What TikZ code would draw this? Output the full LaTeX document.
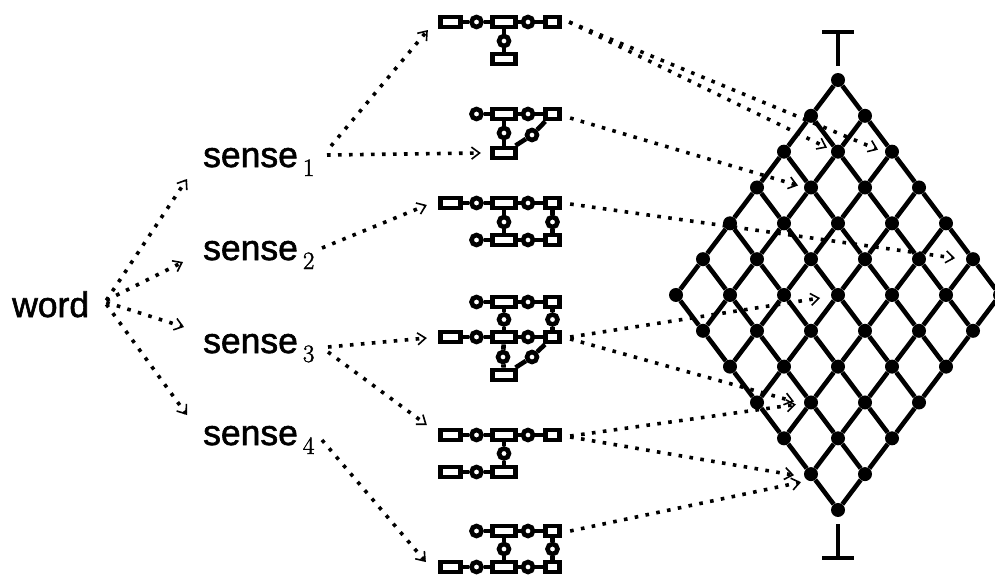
\documentclass[tikz,border=0pt]{standalone}
\usepackage{fontspec}
\usetikzlibrary{arrows.meta,calc}
\newfontfamily\lsans{Liberation Sans}[FakeBold=1.6]
\newfontfamily\lmsub{Latin Modern Roman}[FakeBold=1.6]
\newcommand\subnum[1]{\kern5pt\raisebox{-9pt}{\lmsub\fontsize{25}{25}\selectfont #1}}
\begin{document}
\begin{tikzpicture}[x=1pt,y=-1pt,
  lbl/.style={anchor=base west,inner sep=0pt,font=\lsans\fontsize{35.5}{40}\selectfont},
  rl/.style={rectangle,draw,line width=4.8pt,minimum width=20.5pt,minimum height=10pt,inner sep=0pt},
  rm/.style={rl,minimum width=23.5pt},
  rs/.style={rl,minimum width=14.5pt},
  cc/.style={circle,draw,line width=4.6pt,minimum size=10pt,inner sep=0pt},
  link/.style={line width=4.6pt},
  lat/.style={line width=4.6pt},
  ldot/.style={circle,fill,minimum size=14pt,inner sep=0pt},
  arr/.style={line width=3.6pt,dash pattern=on 3.6pt off 7.4pt,
    -{Straight Barb[length=8pt,width=12pt,line width=1.6pt]}}]
\useasboundingbox (0,0) rectangle (995,579);
\clip (0,0) rectangle (995,579);
\def\Xa{450.5}\def\Xb{476.5}\def\Xc{504}\def\Xd{528}\def\Xe{552.5}
% ---- labels
\node[lbl] (word) at (12,317) {word};
\node[lbl] (s1) at (203,167) {sense\subnum{1}};
\node[lbl] (s2) at (203,260) {sense\subnum{2}};
\node[lbl] (s3) at (203,353) {sense\subnum{3}};
\node[lbl] (s4) at (203,445) {sense\subnum{4}};
% ---- structure 1
\node[rl] (a1) at (\Xa,22) {};
\node[cc] (a2) at (\Xb,22) {};
\node[rm] (a3) at (\Xc,22) {};
\node[cc] (a4) at (\Xd,22) {};
\node[rs] (a5) at (\Xe,22) {};
\node[cc] (a6) at (\Xc,41) {};
\node[rm] (a7) at (\Xc,59) {};
\draw[link] (a1) -- (a2) -- (a3) -- (a4) -- (a5);
\draw[link] (a3) -- (a6) -- (a7);
% ---- structure 2
\node[cc] (b2) at (\Xb,114) {};
\node[rm] (b3) at (\Xc,114) {};
\node[cc] (b4) at (\Xd,114) {};
\node[rs] (b5) at (\Xe,114) {};
\node[cc] (b6) at (\Xc,133) {};
\node[cc] (b8) at (532,135) {};
\node[rm] (b7) at (\Xc,153) {};
\draw[link] (b2) -- (b3) -- (b4) -- (b5);
\draw[link] (b3) -- (b6) -- (b7);
\draw[link] (b5) -- (b8) -- (b7);
% ---- structure 3
\node[rl] (c1) at (\Xa,203) {};
\node[cc] (c2) at (\Xb,203) {};
\node[rm] (c3) at (\Xc,203) {};
\node[cc] (c4) at (\Xd,203) {};
\node[rs] (c5) at (\Xe,203) {};
\node[cc] (c6) at (\Xc,222) {};
\node[cc] (c7) at (\Xe,222) {};
\node[cc] (c8) at (\Xb,240) {};
\node[rm] (c9) at (\Xc,240) {};
\node[cc] (c10) at (\Xd,240) {};
\node[rs] (c11) at (\Xe,240) {};
\draw[link] (c1) -- (c2) -- (c3) -- (c4) -- (c5);
\draw[link] (c3) -- (c6) -- (c9);
\draw[link] (c5) -- (c7) -- (c11);
\draw[link] (c8) -- (c9) -- (c10) -- (c11);
% ---- structure 4
\node[cc] (d2) at (\Xb,302) {};
\node[rm] (d3) at (\Xc,302) {};
\node[cc] (d4) at (\Xd,302) {};
\node[rs] (d5) at (\Xe,302) {};
\node[cc] (d6) at (\Xc,319.5) {};
\node[cc] (d7) at (\Xe,319.5) {};
\node[rl] (d11) at (\Xa,337) {};
\node[cc] (d12) at (\Xb,337) {};
\node[rm] (d13) at (\Xc,337) {};
\node[cc] (d14) at (\Xd,337) {};
\node[rs] (d15) at (\Xe,337) {};
\node[cc] (d16) at (503,357) {};
\node[cc] (d17) at (532,357) {};
\node[rm] (d18) at (\Xc,375) {};
\draw[link] (d2) -- (d3) -- (d4) -- (d5);
\draw[link] (d3) -- (d6) -- (d13);
\draw[link] (d5) -- (d7) -- (d15);
\draw[link] (d11) -- (d12) -- (d13) -- (d14) -- (d15);
\draw[link] (d13) -- (d16) -- (d18);
\draw[link] (d15) -- (d17) -- (d18);
% ---- structure 5
\node[rl] (e1) at (\Xa,435) {};
\node[cc] (e2) at (\Xb,435) {};
\node[rm] (e3) at (\Xc,435) {};
\node[cc] (e4) at (\Xd,435) {};
\node[rs] (e5) at (\Xe,435) {};
\node[cc] (e6) at (\Xc,453.5) {};
\node[rl] (e7) at (\Xa,472) {};
\node[cc] (e8) at (\Xb,472) {};
\node[rm] (e9) at (\Xc,472) {};
\draw[link] (e1) -- (e2) -- (e3) -- (e4) -- (e5);
\draw[link] (e3) -- (e6) -- (e9);
\draw[link] (e7) -- (e8) -- (e9);
% ---- structure 6
\node[cc] (f2) at (\Xb,531) {};
\node[rm] (f3) at (\Xc,531) {};
\node[cc] (f4) at (\Xd,531) {};
\node[rs] (f5) at (\Xe,531) {};
\node[cc] (f6) at (\Xc,549) {};
\node[cc] (f7) at (\Xe,549) {};
\node[rl] (f11) at (\Xa,567) {};
\node[cc] (f12) at (\Xb,567) {};
\node[rm] (f13) at (\Xc,567) {};
\node[cc] (f14) at (\Xd,567) {};
\node[rs] (f15) at (\Xe,567) {};
\draw[link] (f2) -- (f3) -- (f4) -- (f5);
\draw[link] (f3) -- (f6) -- (f13);
\draw[link] (f5) -- (f7) -- (f15);
\draw[link] (f11) -- (f12) -- (f13) -- (f14) -- (f15);
% ---- lattice
\foreach \i in {0,...,6}{\foreach \j in {0,...,6}{
  \node[ldot] (L\i\j) at ({838+27*(\j-\i)},{80+35.83*(\i+\j)}) {};}}
\foreach \i in {0,...,6}{\foreach \j [count=\k] in {0,...,5}{
  \draw[lat] (L\i\j) -- (L\i\k);
  \draw[lat] (L\j\i) -- (L\k\i);}}
\draw[lat] (822,32) -- (854,32) (838,32) -- (838,66);
\draw[lat] (838,524) -- (838,558) (822,558) -- (854,558);
% ---- arrows word -> senses
\draw[arr] ($(word.east)+(17,-4)$) -- ($(s1.base west)+(-16,12)$);
\draw[arr] ($(word.east)+(17,-4)$) -- ($(s2.base west)+(-20,2)$);
\draw[arr] ($(word.east)+(17,-2)$) -- ($(s3.base west)+(-19,-26)$);
\draw[arr] ($(word.east)+(17,0)$) -- ($(s4.base west)+(-16,-30)$);
% ---- arrows senses -> structures
\draw[arr] ($(s1.base west)+(128,-21)$) -- ($(a1.west)+(-10,8)$);
\draw[arr] ($(s1.base west)+(124,-12)$) -- ($(b7.west)+(-9,0)$);
\draw[arr] ($(s2.base west)+(119,-12)$) -- ($(c1.west)+(-11,2)$);
\draw[arr] ($(s3.base west)+(125,-6)$) -- ($(d11.west)+(-11,1)$);
\draw[arr] ($(s3.base west)+(125,-1)$) -- ($(e1.west)+(-11,-10)$);
\draw[arr] ($(s4.base west)+(119,-5)$) -- ($(f11.west)+(-12,-5)$);
% ---- arrows structures -> lattice
\draw[arr] ($(a5.east)+(7,0)$) -- ($(L11)+(-11,-4)$);
\draw[arr] ($(a5.east)+(7,0)$) -- ($(L02)+(-14,-2)$);
\draw[arr] ($(b5.east)+(8,4)$) -- ($(L21)+(-13,-2)$);
\draw[arr] ($(c5.east)+(8,1)$) -- ($(L05)+(-18,-1)$);
\draw[arr] ($(d15.east)+(8,0)$) -- ($(L33)+(-18,3)$);
\draw[arr] ($(d15.east)+(8,2)$) -- ($(L54)+(-17,-1)$);
\draw[arr] ($(e5.east)+(8,1)$) -- ($(L54)+(-15,2)$);
\draw[arr] ($(e5.east)+(8,2)$) -- ($(L65)+(-17,1)$);
\draw[arr] ($(f5.east)+(8,0)$) -- ($(L65)+(-10,8)$);
\end{tikzpicture}
\end{document}
